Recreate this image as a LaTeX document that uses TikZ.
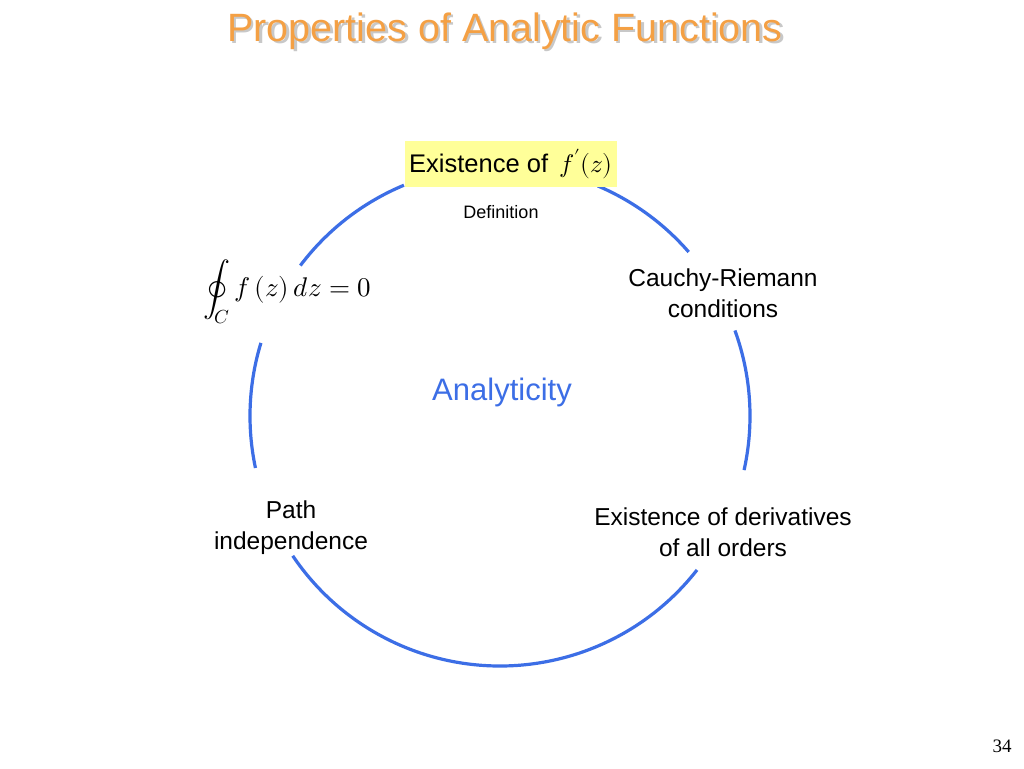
\documentclass[tikz,border=0pt]{standalone}
\usepackage{fontspec}
\setmainfont{Liberation Sans}
\usepackage{unicode-math}
\setmathfont{Latin Modern Math}
\begin{document}
\begin{tikzpicture}[x=1pt,y=-1pt,
  arcline/.style={draw={rgb,255:red,60;green,110;blue,230},line width=3.2pt},
  lbl/.style={font=\fontsize{24.5}{31}\selectfont,align=center}]
\useasboundingbox (0,0) rectangle (1024,768);
\fill[white] (0,0) rectangle (1024,768);
\node[font=\fontsize{39.5}{42}\selectfont,text={rgb,255:red,200;green,200;blue,200}] at (507.5,33.5) {Properties of Analytic Functions};
\node (title) [font=\fontsize{39.5}{42}\selectfont,text={rgb,255:red,244;green,160;blue,68}] at (505,31) {Properties of Analytic Functions};
\foreach \a/\b in {112.6/143, 41/67, -12.5/20, -146/-38, 163/192}
  \draw[arcline] ({500+250*cos(\a)},{416-250*sin(\a)}) arc[start angle=\a,end angle=\b,radius=250pt];
\node (top) [fill={rgb,255:red,255;green,255;blue,153},font=\fontsize{25.5}{30}\selectfont,inner sep=4pt,minimum height=46pt] at (511,164) {Existence of \,$f^{\prime}\!\left(z\right)$};
\node (def) [font=\fontsize{18}{20}\selectfont] at (501,212) {Definition};
\node (cr) [lbl] at (723,293) {Cauchy-Riemann\\conditions};
\node (int) [font=\fontsize{27}{30}\selectfont,anchor=west] at (200,292) {$\displaystyle\oint_{C} f\left(z\right)dz=0$};
\node (ana) [font=\fontsize{31}{34}\selectfont,text={rgb,255:red,60;green,110;blue,230}] at (502,392) {Analyticity};
\node (path) [lbl] at (291,528) {Path\\independence};
\node (der) [lbl] at (723,532) {Existence of derivatives\\of all orders};
\node (pg) [font=\fontsize{19}{20}\selectfont] at (1002,746) {\fontspec{Liberation Serif}34};
\end{tikzpicture}
\end{document}
